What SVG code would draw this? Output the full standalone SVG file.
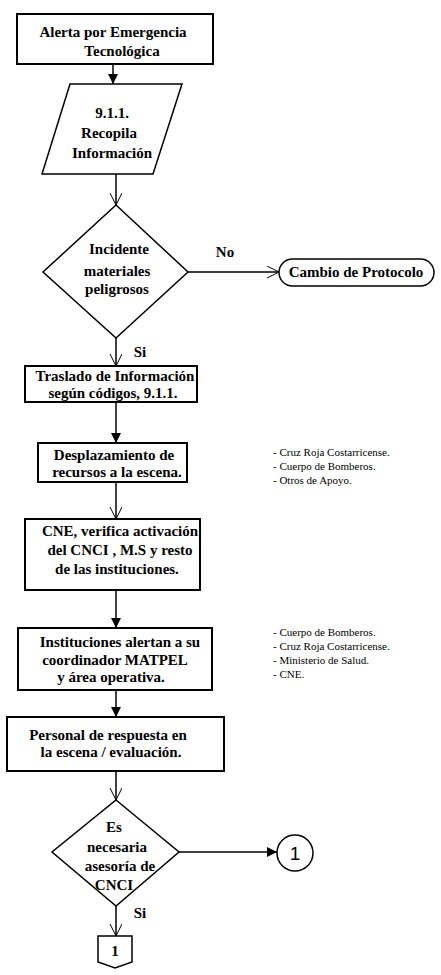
<svg xmlns="http://www.w3.org/2000/svg" width="441" height="975" viewBox="0 0 441 975">
<style>
.b{fill:#fff;stroke:#000;stroke-width:2}
.s{fill:#fff;stroke:#000;stroke-width:1.5}
.t{font-family:"Liberation Serif","Times New Roman",serif;font-weight:bold;font-size:15px;fill:#000;text-anchor:middle}
.l{font-family:"Liberation Serif","Times New Roman",serif;font-size:11px;fill:#000}
.c{fill:none;stroke:#000;stroke-width:1.5}
</style>
<defs>
<marker id="fa" markerWidth="12" markerHeight="12" refX="10" refY="5" orient="auto" markerUnits="userSpaceOnUse"><path d="M0,0 L10,5 L0,10 Z" fill="#000"/></marker>
<marker id="oa" markerWidth="14" markerHeight="14" refX="12" refY="6" orient="auto" markerUnits="userSpaceOnUse"><path d="M0,0 L12,6 L0,12" fill="none" stroke="#000" stroke-width="1"/></marker>
</defs>
<g id="connectors">
<line class="c" x1="113" y1="65" x2="113" y2="84" marker-end="url(#fa)"/>
<line class="c" x1="116" y1="174" x2="116" y2="205" marker-end="url(#oa)"/>
<line class="c" x1="188" y1="272" x2="279" y2="272" marker-end="url(#oa)"/>
<line class="c" x1="116" y1="338" x2="116" y2="366" marker-end="url(#oa)"/>
<line class="c" x1="116" y1="402" x2="116" y2="443" marker-end="url(#fa)"/>
<line class="c" x1="116" y1="482" x2="116" y2="519" marker-end="url(#oa)"/>
<line class="c" x1="116" y1="590" x2="116" y2="628" marker-end="url(#fa)"/>
<line class="c" x1="116" y1="690" x2="116" y2="717" marker-end="url(#fa)"/>
<line class="c" x1="116" y1="771" x2="116" y2="800" marker-end="url(#oa)"/>
<line class="c" x1="179" y1="852" x2="277" y2="852" marker-end="url(#fa)"/>
<line class="c" x1="116" y1="906" x2="116" y2="936" marker-end="url(#oa)"/>
<text class="t" x="225" y="257">No</text>
<text class="t" x="140" y="357">Si</text>
<text class="t" x="140" y="918">Si</text>
</g>
<g id="n1"><rect class="b" x="17" y="14" width="196" height="50"/>
<text class="t" x="113" y="37">Alerta por Emergencia</text><text class="t" x="122" y="56">Tecnológica</text></g>
<g id="n2"><polygon class="s" points="70,84 182,84 153,174 42,174"/>
<text class="t" x="112" y="118">9.1.1.</text><text class="t" x="109" y="138">Recopila</text><text class="t" x="112" y="158">Información</text></g>
<g id="n3"><polygon class="s" points="116,205 188,272 116,338 43,272"/>
<text class="t" x="119" y="254">Incidente</text><text class="t" x="117" y="276">materiales</text><text class="t" x="117" y="294">peligrosos</text></g>
<g id="n4"><rect class="s" x="279" y="259" width="155" height="27" rx="13.5"/>
<text class="t" x="356" y="277">Cambio de Protocolo</text></g>
<g id="n5"><rect class="b" x="25" y="366" width="172" height="36"/>
<text class="t" x="115" y="381">Traslado de Información</text><text class="t" x="113" y="398">según códigos, 9.1.1.</text></g>
<g id="n6"><rect class="b" x="38" y="443" width="149" height="39"/>
<text class="t" x="114" y="460">Desplazamiento de</text><text class="t" x="117" y="477">recursos a la escena.</text></g>
<g id="n7"><text class="l" x="273" y="456">- Cruz Roja Costarricense.</text><text class="l" x="273" y="470">- Cuerpo de Bomberos.</text><text class="l" x="273" y="484">- Otros de Apoyo.</text></g>
<g id="n8"><rect class="b" x="25" y="519" width="175" height="71"/>
<text class="t" x="120" y="536">CNE, verifica activación</text><text class="t" x="120" y="555">del CNCI , M.S  y  resto</text><text class="t" x="117" y="574">de las instituciones.</text></g>
<g id="n9"><rect class="b" x="18" y="628" width="194" height="62"/>
<text class="t" x="120" y="647">Instituciones alertan a su</text><text class="t" x="115" y="665">coordinador MATPEL</text><text class="t" x="111" y="682">y área operativa.</text></g>
<g id="n10"><text class="l" x="273" y="636">- Cuerpo de Bomberos.</text><text class="l" x="273" y="650">- Cruz Roja Costarricense.</text><text class="l" x="273" y="664">- Ministerio de Salud.</text><text class="l" x="273" y="678">- CNE.</text></g>
<g id="n11"><rect class="b" x="7" y="717" width="217" height="54"/>
<text class="t" x="108" y="740">Personal de respuesta en</text><text class="t" x="111" y="757">la escena / evaluación.</text></g>
<g id="n12"><polygon class="s" points="116,800 179,852 116,906 52,852"/>
<text class="t" x="114" y="832">Es</text><text class="t" x="117" y="852">necesaria</text><text class="t" x="120" y="871">asesoría de</text><text class="t" x="114" y="890">CNCI</text></g>
<g id="n13"><circle class="s" cx="295" cy="853" r="18"/>
<text x="295" y="860" text-anchor="middle" font-family="Liberation Sans, Arial, sans-serif" font-size="19" fill="#000">1</text></g>
<g id="n14"><polygon class="s" points="98,936 132,936 132,962 115,968 98,962"/>
<text class="t" x="115" y="956">1</text></g>
</svg>
